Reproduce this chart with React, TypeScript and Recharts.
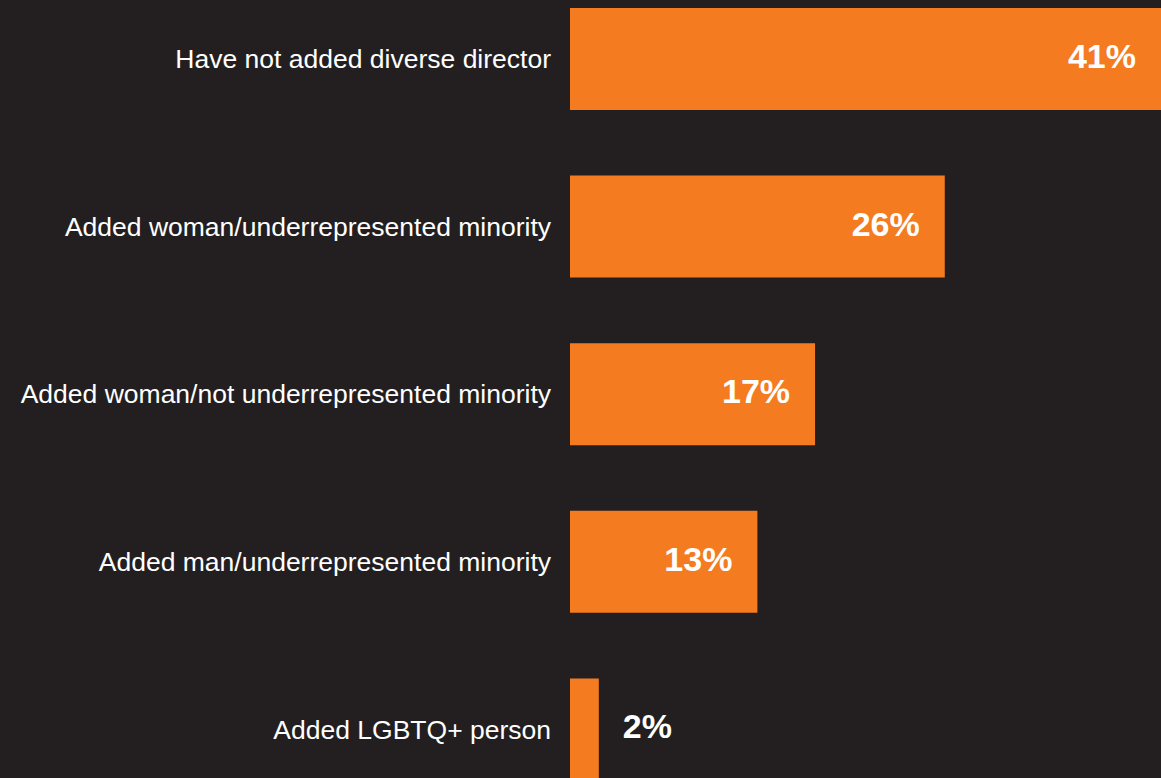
import React from 'react';
import { BarChart, Bar, XAxis, YAxis, LabelList } from 'recharts';

const categories = [
  'Have not added diverse director',
  'Added woman/underrepresented minority',
  'Added woman/not underrepresented minority',
  'Added man/underrepresented minority',
  'Added LGBTQ+ person',
];
const values = [41, 26, 17, 13, 2];

const data = categories.map((name, i) => ({ name, value: values[i] }));

const BG = '#231f20';
const ORANGE = '#f47b20';
const FONT = '"Liberation Sans", Arial, Helvetica, sans-serif';

const ValueLabel = (props: any) => {
  const { x, y, width, height, value } = props;
  const inside = width > 80;
  const tx = inside ? x + width - 25 : x + width + 24;
  return (
    <text
      x={tx}
      y={y + height / 2 - 3}
      textAnchor={inside ? 'end' : 'start'}
      dominantBaseline="central"
      fill="#ffffff"
      fontFamily={FONT}
      fontWeight={700}
      fontSize={34}
    >
      {value}%
    </text>
  );
};

export default function App() {
  return (
    <div
      style={{
        position: 'fixed',
        left: 0,
        top: 0,
        width: 1161,
        height: 778,
        overflow: 'hidden',
        background: BG,
      }}
    >
      <div style={{ position: 'absolute', left: 0, top: -25 }}>
        <BarChart
          width={1161}
          height={838}
          data={data}
          layout="vertical"
          margin={{ top: 0, right: 0, bottom: 0, left: 0 }}
          barCategoryGap={0}
        >
          <XAxis type="number" domain={[0, 41]} hide />
          <YAxis
            type="category"
            dataKey="name"
            width={570}
            axisLine={false}
            tickLine={false}
            tickSize={6}
            tickMargin={13}
            tick={{ fill: '#ffffff', fontSize: 26.5, fontFamily: FONT }}
          />
          <Bar dataKey="value" fill={ORANGE} barSize={102} isAnimationActive={false}>
            <LabelList dataKey="value" content={ValueLabel} />
          </Bar>
        </BarChart>
      </div>
    </div>
  );
}
